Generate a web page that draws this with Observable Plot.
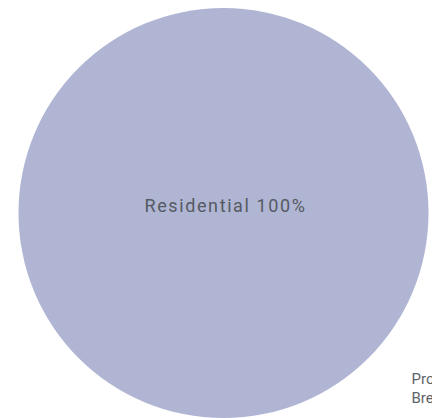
<!DOCTYPE html>
<html>
<head>
<meta charset="utf-8">
<script src="https://cdn.jsdelivr.net/npm/d3@7"></script>
<script src="https://cdn.jsdelivr.net/npm/@observablehq/plot@0.6"></script>
<style>
  html, body { margin: 0; padding: 0; overflow: hidden; background: #fff; }
  #chart svg { display: block; overflow: visible; }
  #chart text[aria-label="slice-label"] { letter-spacing: 1.6px; }
</style>
</head>
<body>
<div id="chart"></div>
<script>
// Data
const categories = ["Residential"];
const values = [100];
const sliceColors = ["#b0b5d3"];
const legendTitle = "Property\nBreakdown";

const total = d3.sum(values);
const data = categories.map((c, i) => ({
  category: c,
  value: values[i],
  pct: Math.round(values[i] / total * 100),
  color: sliceColors[i]
}));

const plot = Plot.plot({
  width: 432,
  height: 418,
  marginLeft: 14,
  marginRight: 0,
  marginTop: 7,
  marginBottom: 0,
  style: { fontFamily: "Roboto, sans-serif", background: "transparent", overflow: "visible" },
  r: { type: "sqrt", domain: [0, total], range: [0, 205] },
  marks: [
    Plot.dot(data, {
      r: "value",
      fill: "color",
      stroke: null,
      frameAnchor: "middle"
    }),
    Plot.text(data, {
      text: d => `${d.category} ${d.pct}%`,
      frameAnchor: "middle",
      ariaLabel: () => "slice-label",
      fontSize: 18,
      fill: "#555a63",
      dx: 2,
      dy: -7
    }),
    Plot.text([legendTitle], {
      text: d => d,
      frameAnchor: "top-left",
      textAnchor: "start",
      lineAnchor: "top",
      dx: 397,
      dy: 363,
      fontSize: 15,
      lineHeight: 1.25,
      fill: "#5f6368"
    })
  ]
});
// fallback: ensure letter spacing applied to slice labels
plot.querySelectorAll('text[aria-label="slice-label"]').forEach(t => t.style.letterSpacing = "1.6px");
document.getElementById("chart").appendChild(plot);
</script>
</body>
</html>
